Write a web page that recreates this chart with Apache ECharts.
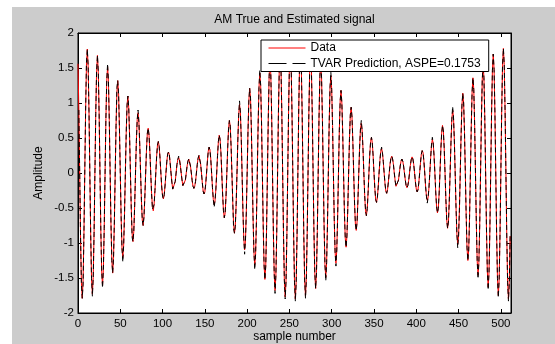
<!DOCTYPE html>
<html><head><meta charset="utf-8">
<script src="https://cdn.jsdelivr.net/npm/echarts@6/dist/echarts.min.js"></script>
<style>html,body{margin:0;padding:0;background:#fff}#c{width:555px;height:344px}</style>
</head><body><div id="c"></div>
<script>
const titleText = 'AM True and Estimated signal';
const xAxisName = 'sample number';
const yAxisName = 'Amplitude';
const seriesNames = ['Data', 'TVAR Prediction, ASPE=0.1753'];
const xTickValues = [0, 50, 100, 150, 200, 250, 300, 350, 400, 450, 500];
const yTickValues = [-2, -1.5, -1, -0.5, 0, 0.5, 1, 1.5, 2];

const dataSignal = [
1.56,0.90,0,-0.90,-1.56,-1.79,-1.55,-0.89,0,0.89,1.54,1.77,
1.53,0.88,0,-0.87,-1.51,-1.73,-1.49,-0.86,0,0.85,1.46,1.68,
1.44,0.83,0,-0.82,-1.40,-1.61,-1.38,-0.79,0,0.78,1.33,1.52,
1.31,0.75,0,-0.73,-1.25,-1.43,-1.22,-0.70,0,0.68,1.16,1.32,
1.13,0.64,0,-0.63,-1.07,-1.21,-1.03,-0.59,0,0.57,0.97,1.10,
0.93,0.53,0,-0.51,-0.87,-0.98,-0.83,-0.47,0,0.45,0.76,0.86,
0.73,0.41,0,-0.39,-0.67,-0.75,-0.63,-0.36,0,0.34,0.57,0.64,
0.54,0.30,0,-0.29,-0.48,-0.54,-0.45,-0.25,0,0.24,0.40,0.45,
0.38,0.21,0,-0.20,-0.33,-0.37,-0.31,-0.17,0,0.16,0.27,0.30,
0.26,0.14,0,-0.13,-0.23,-0.25,-0.21,-0.12,0,0.12,0.19,0.22,
0.19,0.11,0,-0.10,-0.18,-0.20,-0.17,-0.10,0,0.10,0.17,0.20,
0.18,0.10,0,-0.11,-0.19,-0.22,-0.19,-0.12,0,0.12,0.21,0.25,
0.23,0.13,0,-0.14,-0.26,-0.30,-0.27,-0.16,0,0.17,0.31,0.37,
0.33,0.20,0,-0.21,-0.38,-0.45,-0.40,-0.24,0,0.25,0.45,0.54,
0.48,0.29,0,-0.30,-0.54,-0.64,-0.57,-0.34,0,0.36,0.63,0.75,
0.67,0.39,0,-0.41,-0.73,-0.86,-0.76,-0.45,0,0.47,0.83,0.98,
0.87,0.51,0,-0.53,-0.93,-1.10,-0.97,-0.57,0,0.59,1.03,1.21,
1.07,0.63,0,-0.64,-1.13,-1.32,-1.16,-0.68,0,0.70,1.22,1.43,
1.25,0.73,0,-0.75,-1.31,-1.52,-1.33,-0.78,0,0.79,1.38,1.61,
1.40,0.82,0,-0.83,-1.44,-1.68,-1.46,-0.85,0,0.86,1.49,1.73,
1.51,0.87,0,-0.88,-1.53,-1.77,-1.54,-0.89,0,0.89,1.55,1.79,
1.56,0.90,0,-0.90,-1.56,-1.80,-1.56,-0.90,0,0.90,1.55,1.79,
1.55,0.89,0,-0.89,-1.53,-1.76,-1.52,-0.87,0,0.87,1.49,1.71,
1.48,0.85,0,-0.84,-1.44,-1.65,-1.42,-0.82,0,0.80,1.38,1.58,
1.36,0.78,0,-0.76,-1.31,-1.49,-1.28,-0.73,0,0.71,1.22,1.39,
1.19,0.68,0,-0.66,-1.13,-1.29,-1.10,-0.63,0,0.61,1.03,1.18,
1.00,0.57,0,-0.55,-0.93,-1.06,-0.90,-0.51,0,0.49,0.83,0.94,
0.80,0.45,0,-0.43,-0.73,-0.82,-0.70,-0.39,0,0.37,0.63,0.71,
0.60,0.34,0,-0.32,-0.54,-0.61,-0.51,-0.29,0,0.27,0.45,0.51,
0.43,0.24,0,-0.22,-0.38,-0.42,-0.35,-0.20,0,0.18,0.31,0.35,
0.29,0.16,0,-0.15,-0.26,-0.29,-0.24,-0.13,0,0.13,0.21,0.24,
0.20,0.12,0,-0.11,-0.19,-0.21,-0.18,-0.10,0,0.10,0.17,0.20,
0.17,0.10,0,-0.10,-0.18,-0.21,-0.18,-0.11,0,0.11,0.19,0.23,
0.20,0.12,0,-0.13,-0.23,-0.27,-0.24,-0.14,0,0.15,0.27,0.32,
0.29,0.17,0,-0.19,-0.33,-0.39,-0.35,-0.21,0,0.22,0.40,0.48,
0.43,0.25,0,-0.27,-0.48,-0.57,-0.51,-0.30,0,0.32,0.57,0.68,
0.60,0.36,0,-0.38,-0.67,-0.79,-0.70,-0.41,0,0.43,0.76,0.90,
0.80,0.47,0,-0.49,-0.87,-1.02,-0.90,-0.53,0,0.55,0.97,1.14,
1.00,0.59,0,-0.61,-1.07,-1.25,-1.10,-0.64,0,0.66,1.16,1.36,
1.19,0.70,0,-0.71,-1.25,-1.46,-1.28,-0.75,0,0.76,1.33,1.55,
1.36,0.79,0,-0.80,-1.40,-1.63,-1.42,-0.83,0,0.84,1.46,1.70,
1.48,0.86,0,-0.87,-1.51,-1.75,-1.52,-0.88,0,0.89,1.54,1.78,
1.55,0.89,0,-0.90,-1.56,-1.80,-1.56,-0.90
];

const tvarPrediction = [
null,0.90,0,-0.90,-1.56,-1.79,-1.60,-0.89,0,0.89,1.58,1.77,
1.53,0.88,0,-0.87,-1.51,-1.76,-1.49,-0.86,0,0.85,1.46,1.68,
1.44,0.83,0,-0.82,-1.40,-1.64,-1.38,-0.79,0,0.78,1.33,1.56,
1.31,0.75,0,-0.73,-1.25,-1.43,-1.22,-0.70,0,0.68,1.22,1.32,
1.13,0.64,0,-0.63,-1.07,-1.27,-1.03,-0.59,0,0.57,0.97,1.10,
0.93,0.53,0,-0.51,-0.92,-0.98,-0.83,-0.47,0,0.45,0.76,0.90,
0.73,0.41,0,-0.39,-0.67,-0.75,-0.63,-0.36,0,0.34,0.57,0.64,
0.54,0.30,0,-0.29,-0.52,-0.54,-0.45,-0.25,0,0.24,0.40,0.45,
0.38,0.21,0,-0.20,-0.33,-0.37,-0.31,-0.17,0,0.16,0.27,0.30,
0.26,0.14,0,-0.13,-0.23,-0.25,-0.21,-0.12,0,0.12,0.19,0.24,
0.19,0.11,0,-0.10,-0.18,-0.20,-0.17,-0.10,0,0.10,0.17,0.20,
0.18,0.10,0,-0.11,-0.19,-0.22,-0.19,-0.12,0,0.12,0.21,0.25,
0.23,0.13,0,-0.14,-0.26,-0.30,-0.27,-0.16,0,0.17,0.31,0.37,
0.33,0.20,0,-0.21,-0.38,-0.49,-0.40,-0.24,0,0.25,0.45,0.54,
0.48,0.29,0,-0.30,-0.54,-0.64,-0.57,-0.34,0,0.36,0.63,0.75,
0.67,0.39,0,-0.41,-0.80,-0.86,-0.76,-0.45,0,0.47,0.83,1.03,
0.87,0.51,0,-0.53,-0.93,-1.16,-0.97,-0.57,0,0.59,1.03,1.21,
1.07,0.63,0,-0.64,-1.13,-1.38,-1.16,-0.68,0,0.70,1.22,1.47,
1.25,0.73,0,-0.75,-1.31,-1.52,-1.33,-0.78,0,0.79,1.38,1.61,
1.40,0.82,0,-0.83,-1.44,-1.72,-1.46,-0.85,0,0.86,1.49,1.73,
1.51,0.87,0,-0.88,-1.53,-1.80,-1.54,-0.89,0,0.89,1.55,1.79,
1.56,0.90,0,-0.90,-1.56,-1.83,-1.56,-0.90,0,0.90,1.60,1.79,
1.55,0.89,0,-0.89,-1.53,-1.79,-1.52,-0.87,0,0.87,1.49,1.71,
1.48,0.85,0,-0.84,-1.44,-1.65,-1.42,-0.82,0,0.80,1.38,1.62,
1.36,0.78,0,-0.76,-1.31,-1.54,-1.28,-0.73,0,0.71,1.22,1.44,
1.19,0.68,0,-0.66,-1.13,-1.33,-1.10,-0.63,0,0.61,1.03,1.18,
1.00,0.57,0,-0.55,-0.93,-1.06,-0.90,-0.51,0,0.49,0.83,0.94,
0.80,0.45,0,-0.43,-0.73,-0.82,-0.70,-0.39,0,0.37,0.63,0.75,
0.60,0.34,0,-0.32,-0.54,-0.61,-0.51,-0.29,0,0.27,0.45,0.51,
0.43,0.24,0,-0.22,-0.38,-0.42,-0.35,-0.20,0,0.18,0.31,0.37,
0.29,0.16,0,-0.15,-0.26,-0.29,-0.24,-0.13,0,0.13,0.21,0.24,
0.20,0.12,0,-0.11,-0.19,-0.21,-0.18,-0.10,0,0.10,0.17,0.20,
0.17,0.10,0,-0.10,-0.18,-0.21,-0.18,-0.11,0,0.11,0.19,0.23,
0.20,0.12,0,-0.13,-0.23,-0.27,-0.24,-0.14,0,0.15,0.27,0.32,
0.29,0.17,0,-0.19,-0.33,-0.43,-0.35,-0.21,0,0.22,0.40,0.51,
0.43,0.25,0,-0.27,-0.48,-0.57,-0.51,-0.30,0,0.32,0.57,0.68,
0.60,0.36,0,-0.38,-0.67,-0.79,-0.70,-0.41,0,0.43,0.76,0.95,
0.80,0.47,0,-0.49,-0.87,-1.07,-0.90,-0.53,0,0.55,0.97,1.14,
1.00,0.59,0,-0.61,-1.07,-1.25,-1.10,-0.64,0,0.66,1.16,1.36,
1.19,0.70,0,-0.71,-1.25,-1.51,-1.28,-0.75,0,0.76,1.33,1.55,
1.36,0.79,0,-0.80,-1.40,-1.67,-1.42,-0.83,0,0.84,1.46,1.70,
1.48,0.86,0,-0.87,-1.51,-1.78,-1.52,-0.88,0,0.89,1.54,1.78,
1.55,0.89,0,-0.90,-1.56,-1.83,-1.56,-0.90
];

const FONT = 'Liberation Sans, Arial, Helvetica, sans-serif';
const toPairs = arr => arr.map((v, i) => [i, v]);

const chart = echarts.init(document.getElementById('c'), null, { renderer: 'canvas' });

const axisCommon = {
  axisLine: { show: true, onZero: false, lineStyle: { color: '#000', width: 1 } },
  splitLine: { show: false }
};

chart.setOption({
  animation: false,
  backgroundColor: '#ffffff',
  graphic: [{
    type: 'rect', z: -100, silent: true,
    shape: { x: 12, y: 7, width: 560, height: 360 },
    style: { fill: '#cccccc' }
  }],
  title: {
    text: titleText,
    left: 294.5, top: 14, padding: 0,
    textAlign: 'center',
    textStyle: { fontFamily: FONT, fontSize: 12, fontWeight: 'normal', color: '#000' }
  },
  legend: {
    orient: 'vertical',
    left: 261, top: 40,
    padding: [2, 8, 2, 7],
    itemGap: 3.5,
    itemWidth: 37, itemHeight: 12,
    backgroundColor: '#ffffff',
    borderColor: '#000', borderWidth: 1, borderRadius: 0,
    itemStyle: { opacity: 0 },
    lineStyle: { width: 1 },
    textStyle: { fontFamily: FONT, fontSize: 12, color: '#000', width: 188 },
    data: [
      { name: seriesNames[0] },
      { name: seriesNames[1], lineStyle: { type: [18, 6], width: 1 } }
    ]
  },
  grid: {
    left: 78, top: 33, width: 433, height: 280,
    containLabel: false, outerBoundsMode: 'none',
    show: true, backgroundColor: '#ffffff', borderColor: '#000', borderWidth: 1
  },
  xAxis: [{
    ...axisCommon,
    type: 'value', min: 0, max: 512, position: 'bottom',
    name: xAxisName, nameLocation: 'middle', nameGap: 18, nameMoveOverlap: false,
    nameTextStyle: { fontFamily: FONT, fontSize: 12, color: '#000' },
    axisTick: { show: true, inside: true, length: 4, lineStyle: { color: '#000' }, customValues: xTickValues },
    axisLabel: { show: true, margin: 5, fontFamily: FONT, fontSize: 11.5, color: '#000', customValues: xTickValues }
  }, {
    ...axisCommon,
    type: 'value', min: 0, max: 512, position: 'top',
    axisTick: { show: true, inside: true, length: 4, lineStyle: { color: '#000' }, customValues: xTickValues },
    axisLabel: { show: false }
  }],
  yAxis: [{
    ...axisCommon,
    type: 'value', min: -2, max: 2, interval: 0.5, position: 'left',
    name: yAxisName, nameLocation: 'middle', nameGap: 33, nameMoveOverlap: false,
    nameTextStyle: { fontFamily: FONT, fontSize: 12, color: '#000' },
    axisTick: { show: true, inside: true, length: 4, lineStyle: { color: '#000' }, customValues: yTickValues },
    axisLabel: { show: true, margin: 4, fontFamily: FONT, fontSize: 11.5, color: '#000', customValues: yTickValues }
  }, {
    ...axisCommon,
    type: 'value', min: -2, max: 2, interval: 0.5, position: 'right',
    axisTick: { show: true, inside: true, length: 4, lineStyle: { color: '#000' }, customValues: yTickValues },
    axisLabel: { show: false }
  }],
  series: [{
    name: seriesNames[0], type: 'line', xAxisIndex: 0, yAxisIndex: 0,
    data: toPairs(dataSignal),
    symbol: 'none', showSymbol: false,
    lineStyle: { color: '#ff0000', width: 1 },
    itemStyle: { color: '#ff0000' },
    z: 2
  }, {
    name: seriesNames[1], type: 'line', xAxisIndex: 0, yAxisIndex: 0,
    data: toPairs(tvarPrediction),
    symbol: 'none', showSymbol: false, connectNulls: false,
    lineStyle: { color: '#000000', width: 1, type: [5, 3] },
    itemStyle: { color: '#000000' },
    z: 3
  }]
});
</script></body></html>
